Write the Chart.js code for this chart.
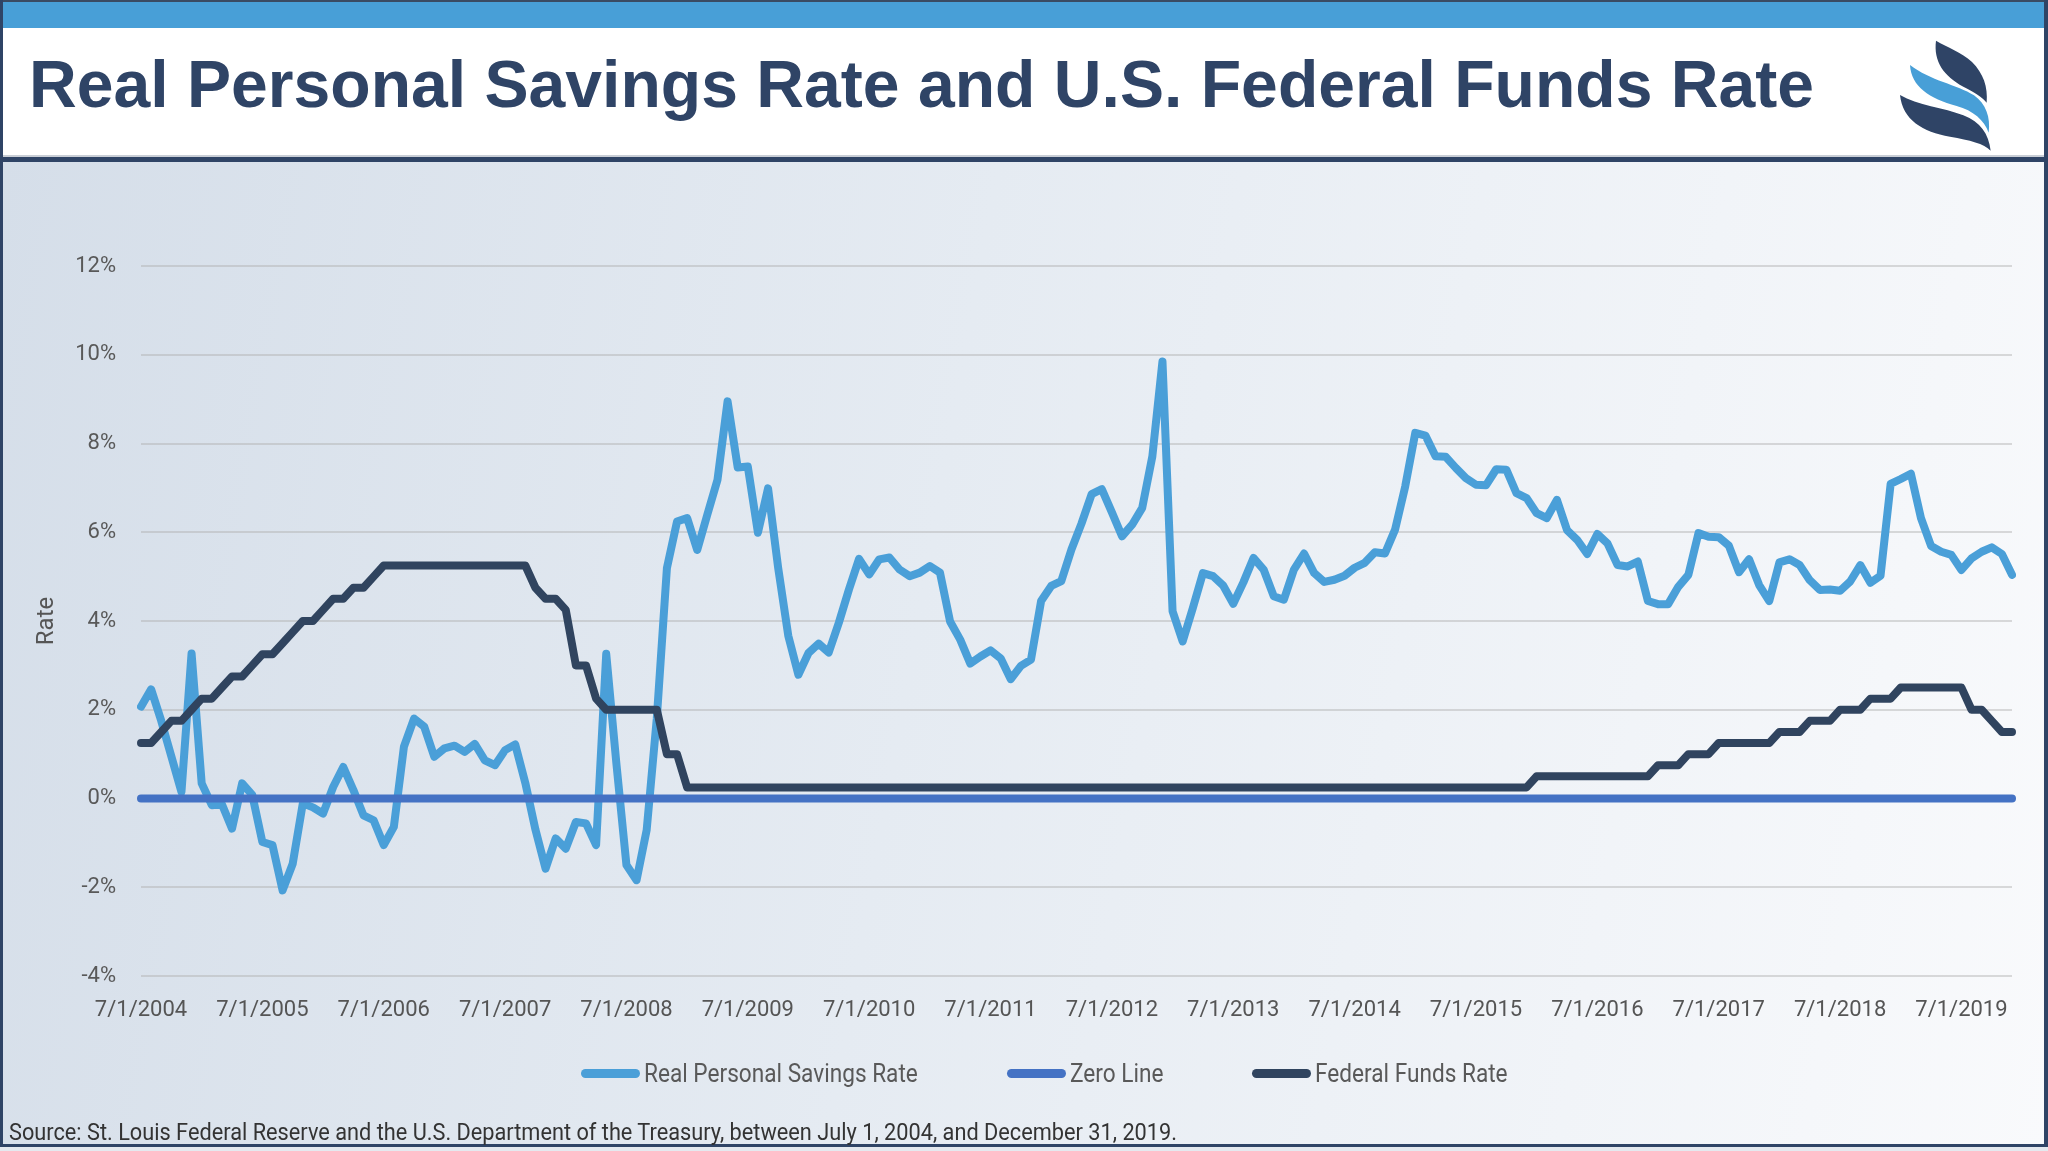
<!DOCTYPE html>
<html>
<head>
<meta charset="utf-8">
<script src="https://cdn.jsdelivr.net/npm/chart.js@4.4.1/dist/chart.umd.min.js"></script>
<style>
  html, body { margin: 0; padding: 0; }
  body { width: 2048px; height: 1151px; position: relative; overflow: hidden; background: #e9edf2; font-family: Roboto, "Liberation Sans", sans-serif; }
  .abs { position: absolute; }
  #topline { left: 0; top: 0; width: 2048px; height: 2px; background: #3a4b63; }
  #bluebar { left: 0; top: 2px; width: 2048px; height: 26px; background: #489fd7; }
  #header { left: 0; top: 28px; width: 2048px; height: 128px; background: #ffffff; }
  #hdrline1 { left: 0; top: 155px; width: 2048px; height: 2px; background: #c9ced6; }
  #hdrline2 { left: 0; top: 157px; width: 2048px; height: 5px; background: #2f4466; }
  #plotbg { left: 0; top: 162px; width: 2048px; height: 982px; background: linear-gradient(100deg, #d5dee9 0%, #e5ebf2 45%, #f9fafc 100%); }
  #botline { left: 0; top: 1144px; width: 2048px; height: 3px; background: #2f4466; }
  #botfill { left: 0; top: 1147px; width: 2048px; height: 4px; background: #e4e9ef; }
  #lborder { left: 0; top: 0; width: 3px; height: 1147px; background: #2f4466; }
  #rborder { left: 2044px; top: 0; width: 4px; height: 1147px; background: #2f4466; }
  #title { left: 29px; top: 51px; margin: 0; font-family: "Liberation Sans", Arial, sans-serif; font-weight: bold; font-size: 66.1px; line-height: 66px; color: #2f4466; white-space: nowrap; }
  #logo { left: 1850px; top: 20px; width: 198px; height: 150px; }
  #chart { left: 0; top: 0; }
  #legend { left: 581px; top: 1061px; height: 25px; display: flex; align-items: center; }
  .litem { display: flex; align-items: center; margin-right: 89px; }
  .lbox { width: 59px; height: 9px; border-radius: 5px; margin-right: 4px; }
  .ltext { display: inline-block; font-size: 25px; line-height: 25px; color: #595959; white-space: nowrap; overflow: visible; }
  .ltext span { display: inline-block; transform-origin: 0 50%; }
  #source { left: 9px; top: 1121px; font-size: 23px; line-height: 23px; color: #333; white-space: nowrap; transform-origin: 0 50%; }
</style>
</head>
<body>
<div class="abs" id="topline"></div>
<div class="abs" id="bluebar"></div>
<div class="abs" id="header"></div>
<div class="abs" id="hdrline1"></div>
<div class="abs" id="hdrline2"></div>
<div class="abs" id="plotbg"></div>
<div class="abs" id="botline"></div>
<div class="abs" id="botfill"></div>
<div class="abs" id="lborder"></div>
<div class="abs" id="rborder"></div>
<h1 class="abs" id="title">Real Personal Savings Rate and U.S. Federal Funds Rate</h1>
<svg class="abs" id="logo" viewBox="0 0 594 450">
  <path d="M258,62 C250,125 282,168 340,200 C372,216 398,232 410,248 C414,200 400,160 366,126 C334,96 292,82 258,62 Z" fill="#2f4466"/>
  <path d="M180,135 C184,200 238,236 320,258 C370,272 402,300 416,338 C422,292 408,252 372,226 C322,194 240,182 180,135 Z" fill="#489fd7"/>
  <path d="M150,225 C158,300 218,336 300,350 C360,361 402,370 422,392 C416,342 392,306 340,286 C282,263 202,256 150,225 Z" fill="#2f4466"/>
</svg>
<canvas class="abs" id="chart" width="2048" height="1151"></canvas>
<div class="abs" id="legend"></div>
<div class="abs" id="source">Source: St. Louis Federal Reserve and the U.S. Department of the Treasury, between July 1, 2004, and December 31, 2019.</div>
<script>
// ---------------- DATA ----------------
const startYear = 2004;
const startMonth = 7; // July
const tickLabels = ['7/1/2004','7/1/2005','7/1/2006','7/1/2007','7/1/2008','7/1/2009','7/1/2010','7/1/2011','7/1/2012','7/1/2013','7/1/2014','7/1/2015','7/1/2016','7/1/2017','7/1/2018','7/1/2019'];
const yTicks = [-4, -2, 0, 2, 4, 6, 8, 10, 12];

const savingsRate = [
  2.07, 2.46, 1.75, 0.95, 0.15, 3.27, 0.34, -0.15, -0.13, -0.68, 0.34, 0.08,
  -0.98, -1.05, -2.07, -1.47, -0.11, -0.20, -0.34, 0.26, 0.71, 0.19, -0.38, -0.49,
  -1.05, -0.64, 1.17, 1.80, 1.62, 0.94, 1.13, 1.19, 1.05, 1.23, 0.86, 0.75,
  1.09, 1.22, 0.35, -0.70, -1.58, -0.90, -1.13, -0.53, -0.56, -1.05, 3.26, 0.80,
  -1.50, -1.84, -0.71, 1.80, 5.19, 6.24, 6.32, 5.60, 6.40, 7.18, 8.95, 7.46,
  7.48, 5.99, 6.99, 5.20, 3.67, 2.79, 3.28, 3.49, 3.29, 3.96, 4.71, 5.40,
  5.05, 5.39, 5.43, 5.16, 5.01, 5.09, 5.24, 5.09, 3.99, 3.58, 3.04, 3.20,
  3.34, 3.16, 2.69, 2.99, 3.13, 4.45, 4.79, 4.90, 5.61, 6.20, 6.86, 6.97,
  6.45, 5.91, 6.17, 6.55, 7.71, 9.85, 4.22, 3.54, 4.29, 5.08, 5.01, 4.80,
  4.39, 4.87, 5.42, 5.16, 4.56, 4.48, 5.16, 5.52, 5.08, 4.88, 4.93, 5.02,
  5.20, 5.31, 5.55, 5.52, 6.06, 7.03, 8.24, 8.18, 7.71, 7.70, 7.45, 7.22,
  7.07, 7.06, 7.42, 7.41, 6.88, 6.77, 6.43, 6.32, 6.73, 6.05, 5.83, 5.51,
  5.96, 5.75, 5.26, 5.23, 5.34, 4.45, 4.38, 4.38, 4.77, 5.04, 5.98, 5.90,
  5.89, 5.70, 5.10, 5.39, 4.81, 4.45, 5.32, 5.39, 5.26, 4.92, 4.70, 4.71,
  4.68, 4.89, 5.26, 4.86, 5.02, 7.09, 7.20, 7.32, 6.32, 5.69, 5.56, 5.49,
  5.15, 5.41, 5.56, 5.66, 5.51, 5.04
];

const fedFundsRate = [
  1.25, 1.25, 1.50, 1.75, 1.75, 2.00, 2.25, 2.25, 2.50, 2.75, 2.75, 3.00,
  3.25, 3.25, 3.50, 3.75, 4.00, 4.00, 4.25, 4.50, 4.50, 4.75, 4.75, 5.00,
  5.25, 5.25, 5.25, 5.25, 5.25, 5.25, 5.25, 5.25, 5.25, 5.25, 5.25, 5.25,
  5.25, 5.25, 5.25, 4.75, 4.50, 4.50, 4.25, 3.00, 3.00, 2.25, 2.00, 2.00,
  2.00, 2.00, 2.00, 2.00, 1.00, 1.00, 0.25, 0.25, 0.25, 0.25, 0.25, 0.25,
  0.25, 0.25, 0.25, 0.25, 0.25, 0.25, 0.25, 0.25, 0.25, 0.25, 0.25, 0.25,
  0.25, 0.25, 0.25, 0.25, 0.25, 0.25, 0.25, 0.25, 0.25, 0.25, 0.25, 0.25,
  0.25, 0.25, 0.25, 0.25, 0.25, 0.25, 0.25, 0.25, 0.25, 0.25, 0.25, 0.25,
  0.25, 0.25, 0.25, 0.25, 0.25, 0.25, 0.25, 0.25, 0.25, 0.25, 0.25, 0.25,
  0.25, 0.25, 0.25, 0.25, 0.25, 0.25, 0.25, 0.25, 0.25, 0.25, 0.25, 0.25,
  0.25, 0.25, 0.25, 0.25, 0.25, 0.25, 0.25, 0.25, 0.25, 0.25, 0.25, 0.25,
  0.25, 0.25, 0.25, 0.25, 0.25, 0.25, 0.50, 0.50, 0.50, 0.50, 0.50, 0.50,
  0.50, 0.50, 0.50, 0.50, 0.50, 0.50, 0.75, 0.75, 0.75, 1.00, 1.00, 1.00,
  1.25, 1.25, 1.25, 1.25, 1.25, 1.25, 1.50, 1.50, 1.50, 1.75, 1.75, 1.75,
  2.00, 2.00, 2.00, 2.25, 2.25, 2.25, 2.50, 2.50, 2.50, 2.50, 2.50, 2.50,
  2.50, 2.00, 2.00, 1.75, 1.50, 1.50
];

const zeroLineValue = 0;

const seriesNames = ['Real Personal Savings Rate', 'Zero Line', 'Federal Funds Rate'];
const seriesColors = ['#4a9fd8', '#4472c4', '#30445f'];

// month categories M/1/YYYY
const categories = [];
for (let k = 0; k < savingsRate.length; k++) {
  const m0 = startMonth - 1 + k;
  const y = startYear + Math.floor(m0 / 12);
  const m = (m0 % 12) + 1;
  categories.push(m + '/1/' + y);
}
const zeroLine = categories.map(() => zeroLineValue);

// ---------------- CHART ----------------
const PAD_L = 75, PAD_R = 36, PAD_T = 266, PAD_B = 115;
const AREA_LEFT = 141, XAXIS_H = 60;

const ctx = document.getElementById('chart').getContext('2d');
const chart = new Chart(ctx, {
  type: 'line',
  data: {
    labels: categories,
    datasets: [
      { label: seriesNames[0], data: savingsRate, borderColor: seriesColors[0], backgroundColor: seriesColors[0], borderWidth: 8, order: 3 },
      { label: seriesNames[1], data: zeroLine, borderColor: seriesColors[1], backgroundColor: seriesColors[1], borderWidth: 8, order: 2 },
      { label: seriesNames[2], data: fedFundsRate, borderColor: seriesColors[2], backgroundColor: seriesColors[2], borderWidth: 8, order: 1 }
    ]
  },
  options: {
    responsive: false,
    animation: false,
    devicePixelRatio: 1,
    layout: { padding: { left: PAD_L, right: PAD_R, top: PAD_T, bottom: PAD_B } },
    elements: {
      point: { radius: 0, hoverRadius: 0 },
      line: { tension: 0, borderCapStyle: 'round', borderJoinStyle: 'round', fill: false }
    },
    plugins: { legend: { display: false }, tooltip: { enabled: false }, title: { display: false } },
    scales: {
      x: {
        type: 'category',
        offset: false,
        grid: { display: false, drawTicks: false },
        border: { display: false },
        ticks: {
          autoSkip: false, maxRotation: 0, minRotation: 0, padding: 21,
          color: '#555555', font: { family: 'Roboto', size: 22 },
          callback: function (value) {
            const lab = this.getLabelForValue(value);
            return tickLabels.includes(lab) ? lab : '';
          }
        },
        afterFit: (s) => { s.height = XAXIS_H; }
      },
      y: {
        min: yTicks[0], max: yTicks[yTicks.length - 1],
        afterBuildTicks: (s) => { s.ticks = yTicks.map(v => ({ value: v })); },
        grid: { color: 'rgba(175,175,175,0.45)', lineWidth: 2, drawTicks: false },
        border: { display: false },
        ticks: { padding: 25, color: '#595959', font: { family: 'Roboto', size: 22 }, callback: (v) => v + '%' },
        title: { display: true, text: 'Rate', color: '#555555', font: { family: 'Roboto', size: 24 }, padding: { top: -42, bottom: 0 } },
        afterFit: (s) => { s.width = AREA_LEFT - PAD_L; }
      }
    }
  }
});

// ---------------- HTML LEGEND (from the datasets) ----------------
const COND = 0.905;
const legendEl = document.getElementById('legend');
chart.data.datasets.forEach((ds) => {
  const item = document.createElement('div');
  item.className = 'litem';
  const box = document.createElement('div');
  box.className = 'lbox';
  box.style.background = ds.borderColor;
  const txt = document.createElement('div');
  txt.className = 'ltext';
  const inner = document.createElement('span');
  inner.textContent = ds.label;
  txt.appendChild(inner);
  item.appendChild(box);
  item.appendChild(txt);
  legendEl.appendChild(item);
  const w = inner.getBoundingClientRect().width;
  inner.style.transform = 'scaleX(' + COND + ')';
  txt.style.width = (w * COND) + 'px';
});
legendEl.lastChild.style.marginRight = '0px';
const src = document.getElementById('source');
const srcW = src.getBoundingClientRect().width;
src.style.transform = 'scaleX(' + (1168 / srcW) + ')';
</script>
</body>
</html>
